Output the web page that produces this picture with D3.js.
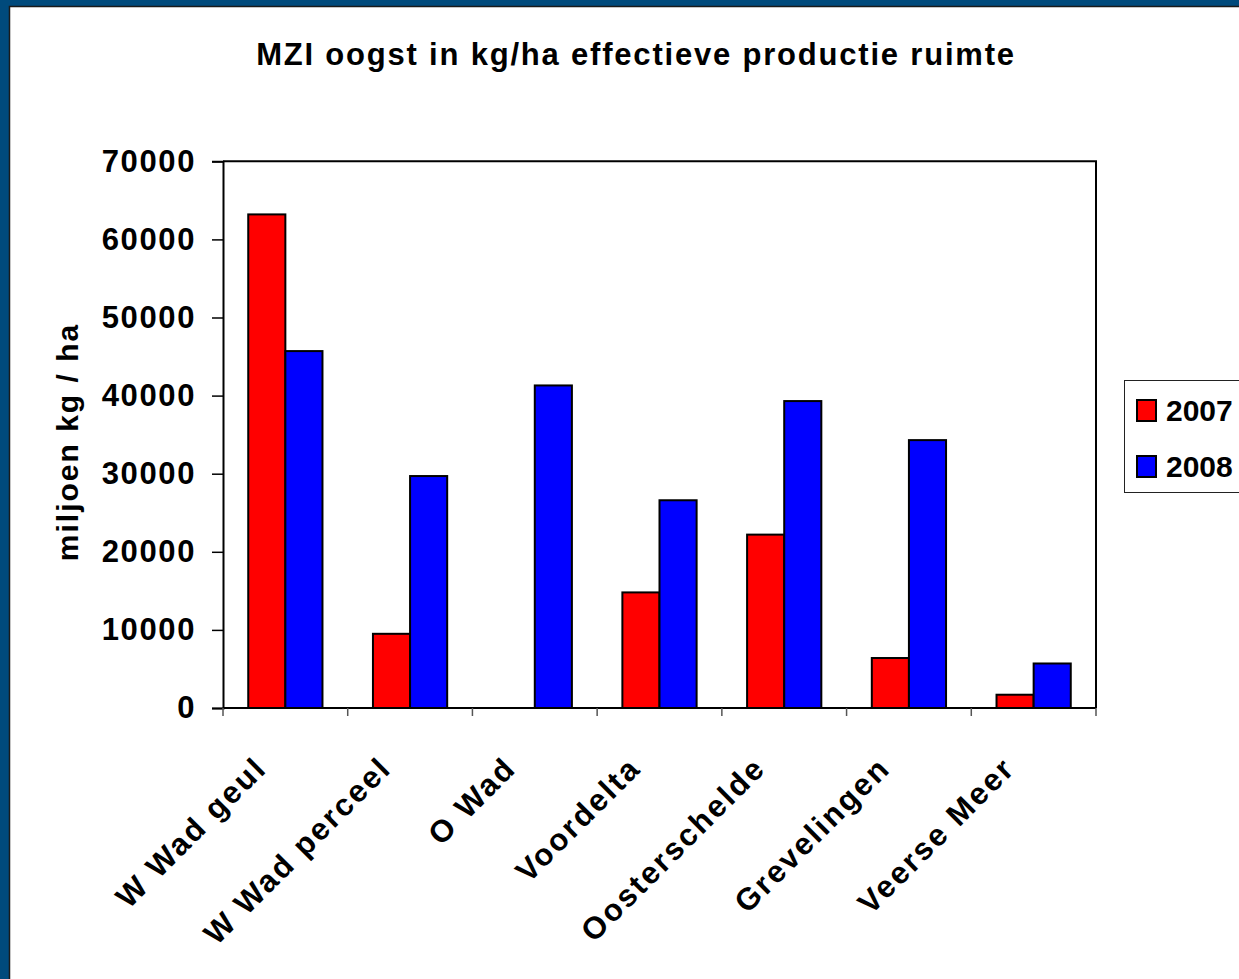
<!DOCTYPE html>
<html>
<head>
<meta charset="utf-8">
<script src="https://cdn.jsdelivr.net/npm/d3@7"></script>
<style>
  html, body { margin: 0; padding: 0; background: #fff; overflow: hidden; }
  svg { display: block; }
  text { font-family: "Liberation Sans", Arial, sans-serif; font-weight: bold; fill: #000; }
</style>
</head>
<body>
<svg id="chart" width="1239" height="979"></svg>
<script>
// ---- data ----
const categories = ["W Wad geul", "W Wad perceel", "O Wad", "Voordelta", "Oosterschelde", "Grevelingen", "Veerse Meer"];
const seriesNames = ["2007", "2008"];
const values2007 = [63200, 9500, 0, 14800, 22200, 6400, 1700];
const values2008 = [45700, 29700, 41300, 26600, 39300, 34300, 5700];
const seriesColors = ["#ff0000", "#0000ff"];
const yTicks = [0, 10000, 20000, 30000, 40000, 50000, 60000, 70000];
const titleText = "MZI oogst in kg/ha effectieve productie ruimte";
const yTitle = "miljoen kg / ha";

const seriesValues = [values2007, values2008];

const W = 1239, H = 979;
const svg = d3.select("#chart");

// frame
svg.append("rect").attr("x", 0).attr("y", 0).attr("width", W).attr("height", H).attr("fill", "#004a7c");
svg.append("rect").attr("x", 9.5).attr("y", 6.5).attr("width", W + 20).attr("height", H + 20)
  .attr("fill", "#ffffff").attr("stroke", "#1a1a1a").attr("stroke-width", 1.5);

const plot = { left: 223, right: 1096, top: 161.3, bottom: 708 };

const x0 = d3.scaleBand().domain(categories).range([plot.left, plot.right]).padding(0);
const x1 = d3.scaleBand().domain(seriesNames).range([0, x0.bandwidth()]).paddingInner(0).paddingOuter(0.68);
const y = d3.scaleLinear().domain([0, 70000]).range([plot.bottom, plot.top]);

// title
svg.append("text").attr("x", 636).attr("y", 65).attr("text-anchor", "middle")
  .style("font-size", "31px").style("letter-spacing", "1.8px").text(titleText);

// plot frame (top + right)
svg.append("path")
  .attr("d", `M${plot.left},${plot.top}H${plot.right}V${plot.bottom}`)
  .attr("fill", "none").attr("stroke", "#000").attr("stroke-width", 2);

// bars
const data = [];
categories.forEach((c, i) => {
  seriesNames.forEach((s, j) => data.push({ c, s, v: seriesValues[j][i], color: seriesColors[j] }));
});
svg.append("g").selectAll("rect").data(data).join("rect")
  .attr("x", d => x0(d.c) + x1(d.s))
  .attr("y", d => y(d.v))
  .attr("width", x1.bandwidth())
  .attr("height", d => y(0) - y(d.v))
  .attr("fill", d => d.color)
  .attr("stroke", "#000").attr("stroke-width", 2);

// y axis
const yAxis = d3.axisLeft(y).tickValues(yTicks).tickSize(11).tickPadding(16).tickFormat(d3.format("d"));
const gy = svg.append("g").attr("transform", `translate(${plot.left},0)`).call(yAxis);
gy.select(".domain").attr("stroke", "#000").attr("stroke-width", 2);
gy.selectAll(".tick line").attr("stroke", "#000").attr("stroke-width", 1.5);
gy.selectAll(".tick text").style("font-size", "31px").style("font-family", "Liberation Sans, Arial, sans-serif")
  .style("font-weight", "bold").style("letter-spacing", "1.6px");

// x axis: boundary ticks
const boundaries = categories.map(c => x0(c)).concat([x0.range()[1]]);
const gx = svg.append("g").attr("transform", `translate(0,${plot.bottom})`);
gx.append("line").attr("x1", plot.left).attr("x2", plot.right).attr("stroke", "#000").attr("stroke-width", 2);
gx.selectAll("line.bt").data(boundaries).join("line").attr("class", "bt")
  .attr("x1", d => d).attr("x2", d => d).attr("y1", 0).attr("y2", 8)
  .attr("stroke", "#555").attr("stroke-width", 1.5);

// x labels rotated
gx.selectAll("text.xl").data(categories).join("text").attr("class", "xl")
  .attr("text-anchor", "end")
  .attr("transform", d => `translate(${x0(d) + x0.bandwidth() / 2 - 17},${62}) rotate(-45)`)
  .style("font-size", "31px").style("letter-spacing", "2.3px")
  .text(d => d);

// y title
svg.append("text").attr("transform", `translate(78,442) rotate(-90)`).attr("text-anchor", "middle")
  .style("font-size", "30px").style("letter-spacing", "2px").text(yTitle);

// legend
const lg = svg.append("g");
lg.append("rect").attr("x", 1124.5).attr("y", 380.5).attr("width", 200).attr("height", 112)
  .attr("fill", "#fff").attr("stroke", "#222").attr("stroke-width", 1);
seriesNames.forEach((s, j) => {
  const yy = 400 + j * 56;
  lg.append("rect").attr("x", 1137).attr("y", yy).attr("width", 19).attr("height", 21)
    .attr("fill", seriesColors[j]).attr("stroke", "#000").attr("stroke-width", 2);
  lg.append("text").attr("x", 1166).attr("y", yy + 21).style("font-size", "30px").text(s);
});
</script>
</body>
</html>
